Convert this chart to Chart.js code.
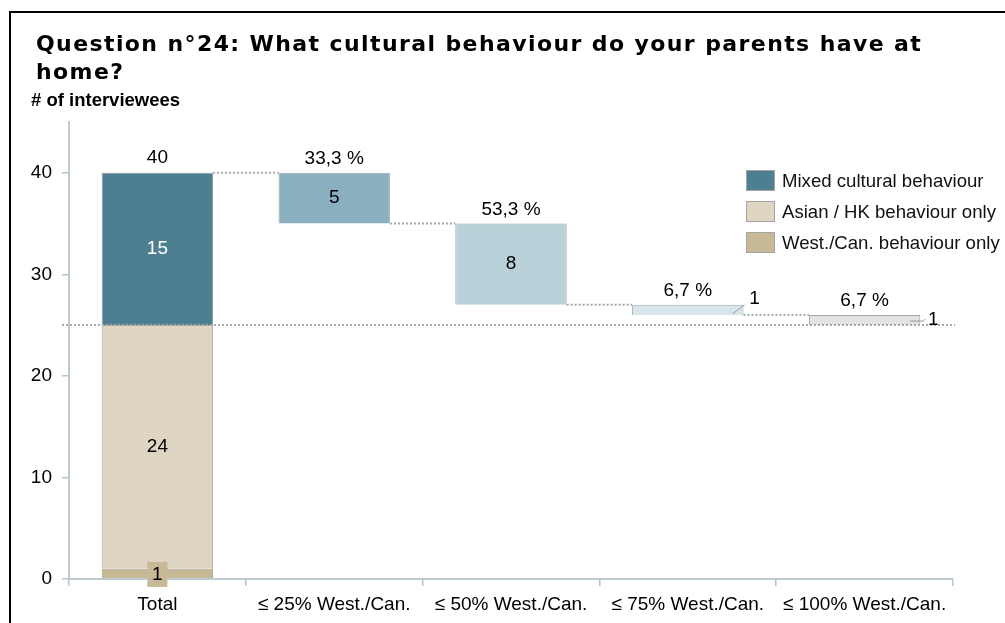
<!DOCTYPE html>
<html>
<head>
<meta charset="utf-8">
<script src="https://cdn.jsdelivr.net/npm/chart.js@4.4.0/dist/chart.umd.min.js"></script>
<style>
    html, body { margin: 0; padding: 0; background: #fff; width: 1005px; height: 623px; overflow: hidden; }
    #moldura { position: absolute; left: 9px; top: 11px; width: 1100px; height: 700px; border: 2px solid #000; }
    #area { position: absolute; left: 0; top: 0; width: 1005px; height: 623px; }
    #titulo { position: absolute; left: 36px; top: 30px; font: bold 22px "DejaVu Sans", Verdana, sans-serif; letter-spacing: 1.4px; line-height: 28px; color: #000; white-space: nowrap; }
    #eixoY { position: absolute; left: 31px; top: 90px; font: bold 18.5px "Liberation Sans", Arial, sans-serif; line-height: 20px; color: #000; }
    #legenda { position: absolute; left: 746px; top: 170px; font: 18.6px "Liberation Sans", Arial, sans-serif; color: #111; }
    #legenda div { height: 31px; display: flex; align-items: flex-start; line-height: 21px; }
    #legenda span.caixa { display: inline-block; width: 27px; height: 19px; border: 1px solid #a4a4a4; margin-right: 7px; }
</style>
</head>
<body>
<div id="moldura"></div>
<div id="area"><canvas id="graficoComportamento" width="1005" height="623"></canvas></div>
<div id="titulo">Question n°24: What cultural behaviour do your parents have at<br>home?</div>
<div id="eixoY"># of interviewees</div>
<div id="legenda"></div>
<script>
// Dados do gráfico
const categorias = ['Total', '≤ 25% West./Can.', '≤ 50% West./Can.', '≤ 75% West./Can.', '≤ 100% West./Can.'];
const nomesSeries = ['Mixed cultural behaviour', 'Asian / HK behaviour only', 'West./Can. behaviour only'];
const coresSeries = ['#4d7f91', '#ded5c2', '#c7b995'];
const valoresTotal = [15, 24, 1];           // misto, asiático, ocidental
const valoresPassos = [5, 8, 1, 1];         // decomposição do comportamento misto
const rotulosPercentual = ['33,3 %', '53,3 %', '6,7 %', '6,7 %'];
const coresPassos = ['#8aafbf', '#b9d1d9', '#d9e5ec', '#e3e3e3'];
const ticksY = [0, 10, 20, 30, 40];

// Monta os intervalos das barras flutuantes
const ocidental = valoresTotal[2];
const asiatico = valoresTotal[1];
const misto = valoresTotal[0];
const base = ocidental + asiatico;
const topo = base + misto;

const faixaOcidental = [[0, ocidental], null, null, null, null];
const faixaAsiatico = [[ocidental, base], null, null, null, null];
const faixaMisto = [[base, topo], null, null, null, null];
const faixaPassos = [null];
let atual = topo;
valoresPassos.forEach(v => {
    faixaPassos.push([atual - v, atual]);
    atual -= v;
});

// Legenda em HTML
const legenda = document.getElementById('legenda');
nomesSeries.forEach((nome, i) => {
    const linha = document.createElement('div');
    linha.innerHTML = `<span class="caixa" style="background:${coresSeries[i]}"></span><span>${nome}</span>`;
    legenda.appendChild(linha);
});

const fonte = '"Liberation Sans", Arial, sans-serif';
const tamanhoFonte = 19;

// Plugin que desenha rótulos, conectores e a linha de base
const pluginAnotacoes = {
    id: 'anotacoes',
    afterDatasetsDraw(chart) {
        const ctx = chart.ctx;
        const y = chart.scales.y;
        const area = chart.chartArea;
        const barraTotal = chart.getDatasetMeta(2).data[0];
        const barrasPassos = chart.getDatasetMeta(3).data;

        ctx.save();
        // linha pontilhada na base do comportamento misto
        ctx.strokeStyle = '#a9a9a9';
        ctx.lineWidth = 2;
        ctx.setLineDash([2, 2]);
        ctx.beginPath();
        ctx.moveTo(area.left - 7, y.getPixelForValue(base));
        ctx.lineTo(area.right + 2, y.getPixelForValue(base));
        ctx.stroke();

        // conectores entre as barras
        let xAnterior = barraTotal.x + barraTotal.width / 2;
        let nivel = topo;
        for (let i = 1; i < barrasPassos.length; i++) {
            const b = barrasPassos[i];
            const py = y.getPixelForValue(nivel);
            ctx.beginPath();
            ctx.moveTo(xAnterior, py);
            ctx.lineTo(b.x - b.width / 2, py);
            ctx.stroke();
            xAnterior = b.x + b.width / 2;
            nivel = faixaPassos[i][0];
        }
        ctx.setLineDash([]);

        // rótulos da barra total
        ctx.font = tamanhoFonte + 'px ' + fonte;
        ctx.textAlign = 'center';
        ctx.textBaseline = 'middle';
        ctx.fillStyle = '#000';
        const cx = barraTotal.x;
        ctx.fillText(String(topo), cx, y.getPixelForValue(topo) - 15);
        ctx.fillStyle = '#fff';
        ctx.fillText(String(misto), cx, y.getPixelForValue((base + topo) / 2));
        ctx.fillStyle = '#000';
        ctx.fillText(String(asiatico), cx, y.getPixelForValue((ocidental + base) / 2));
        // rótulo com fundo para o valor pequeno
        const py1 = y.getPixelForValue(ocidental / 2);
        ctx.fillStyle = coresSeries[2];
        ctx.fillRect(cx - 10, py1 - 12, 20, 25);
        ctx.fillStyle = '#000';
        ctx.fillText(String(ocidental), cx, py1 + 1);

        // rótulos dos passos
        for (let i = 1; i < barrasPassos.length; i++) {
            const b = barrasPassos[i];
            const [ini, fim] = faixaPassos[i];
            const valor = valoresPassos[i - 1];
            const pTopo = y.getPixelForValue(fim);
            const pBase = y.getPixelForValue(ini);
            ctx.fillStyle = '#000';
            ctx.fillText(rotulosPercentual[i - 1], b.x, pTopo - 14);
            if (pBase - pTopo > 25) {
                ctx.fillText(String(valor), b.x, (pTopo + pBase) / 2);
            } else {
                const dir = b.x + b.width / 2;
                const meio = (pTopo + pBase) / 2;
                ctx.strokeStyle = '#9a9a9a';
                ctx.lineWidth = 1;
                ctx.beginPath();
                if (i === 3) {
                    ctx.moveTo(dir - 11, meio + 4);
                    ctx.lineTo(dir + 1, meio - 5);
                    ctx.stroke();
                    ctx.fillText(String(valor), dir + 11, meio - 11);
                } else {
                    ctx.moveTo(dir - 10, meio + 1);
                    ctx.lineTo(dir + 3, meio + 1);
                    ctx.lineTo(dir + 5, meio - 1);
                    ctx.stroke();
                    ctx.fillText(String(valor), dir + 13, meio);
                }
            }
        }
        ctx.restore();
    }
};

new Chart(document.getElementById('graficoComportamento'), {
    type: 'bar',
    data: {
        labels: categorias,
        datasets: [
            { label: nomesSeries[2], data: faixaOcidental, backgroundColor: coresSeries[2], borderColor: '#a8a08a', borderWidth: 1 },
            { label: nomesSeries[1], data: faixaAsiatico, backgroundColor: coresSeries[1], borderColor: '#a8a6a0', borderWidth: 1 },
            { label: nomesSeries[0], data: faixaMisto, backgroundColor: coresSeries[0], borderColor: '#8c9ba0', borderWidth: 1 },
            { label: 'passos', data: faixaPassos, backgroundColor: [null].concat(coresPassos), borderColor: '#9aa6ab', borderWidth: 1 }
        ]
    },
    options: {
        responsive: false,
        animation: false,
        events: [],
        layout: { padding: { left: 0, right: 52, top: 122, bottom: 0 } },
        datasets: { bar: { barPercentage: 0.63, categoryPercentage: 1, skipNull: true } },
        plugins: {
            legend: { display: false },
            title: { display: false },
            tooltip: { enabled: false }
        },
        scales: {
            x: {
                stacked: true,
                grid: { offset: true, drawOnChartArea: false, tickLength: 7, color: '#b8c4ca', lineWidth: 1.5 },
                border: { color: '#bccad1', width: 2 },
                ticks: { color: '#000', font: { family: fonte, size: tamanhoFonte }, padding: 7, maxRotation: 0 },
                afterFit: (s) => { s.height = 44; }
            },
            y: {
                stacked: false,
                min: 0,
                max: 45,
                afterBuildTicks: (s) => { s.ticks = ticksY.map(v => ({ value: v })); },
                grid: { drawOnChartArea: false, tickLength: 7, color: '#b8c4ca', lineWidth: 1.5 },
                border: { color: '#bccad1', width: 2 },
                ticks: { color: '#000', font: { family: fonte, size: tamanhoFonte }, padding: 10 },
                afterFit: (s) => { s.width = 69; }
            }
        }
    },
    plugins: [pluginAnotacoes]
});
</script>
</body>
</html>
